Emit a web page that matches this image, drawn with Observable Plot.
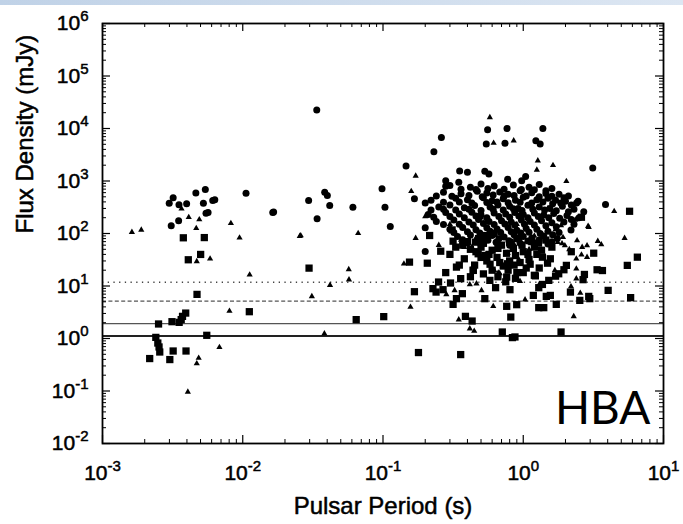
<!DOCTYPE html>
<html>
<head>
<meta charset="utf-8">
<script src="https://cdn.jsdelivr.net/npm/d3@7"></script>
<script src="https://cdn.jsdelivr.net/npm/@observablehq/plot@0.6"></script>
<style>
  html, body { margin: 0; padding: 0; background: white; }
  #wrap { position: relative; width: 683px; height: 524px; }
  #band { position: absolute; left: 0; top: 0; width: 683px; height: 5px;
          background: linear-gradient(to right, #c0d2e7, #dce6f2); }
</style>
</head>
<body>
<div id="wrap"><div id="band"></div></div>
<script>
// ---- Data: [period (s), flux density (mJy)] ----
const circles = [
  [0.00319,478],[0.00299,377],[0.00351,352],[0.00398,367],[0.00463,594],[0.00541,687],[0.00524,377],[0.00611,424],[0.00632,437],[0.00547,243],[0.00566,251],[0.00349,174],[0.00309,140],[0.01055,583],[0.01637,251],[0.0166,258],
  [0.0337,22500],[0.0295,424],[0.0384,610],[0.0401,527],[0.0417,340],[0.0339,190],[0.061,316],[0.0984,708],[0.1033,316],[0.1127,136],[0.146,1936],[0.1675,457],[0.2608,6770],[0.2306,3620],[0.557,9490],[0.766,10000],[0.545,5070],[0.741,5210],[1.38,10000],[1.23,5860],[1.32,5070],[3.13,1775],[3.86,356],[2.46,411],[0.352,1556],[0.4,1462],[0.532,1528],[0.569,1365],[0.774,1077],[0.975,1016],[1.04,1213],[0.28,1016],[0.28,793],[0.347,944],[0.2,45.5],[0.2,128],[2.19,117],
  [0.3,820],[0.42,760],[0.5,880],[0.62,800],[0.85,840],[1.1,760],[1.3,860],[1.6,720],
  [0.36,700],[0.46,690],[0.56,720],[0.73,700],[0.97,690],[1.2,680],[1.45,650],
  [0.27,610],[0.36,570],[0.47,640],[0.55,590],[0.68,620],[0.78,560],[0.95,650],[1.15,600],[1.45,580],[1.8,560],[2.1,520],
  [0.24,520],[0.31,510],[0.41,530],[0.51,500],[0.61,540],[0.73,510],[0.86,530],[1.05,520],[1.3,500],[1.6,510],[1.95,480],
  [0.22,430],[0.33,470],[0.4,440],[0.52,480],[0.6,420],[0.72,460],[0.88,430],[1.0,490],[1.25,440],[1.5,470],[1.7,430],[2.0,410],[2.4,380],
  [0.2,380],[0.27,395],[0.35,400],[0.43,380],[0.55,390],[0.65,400],[0.78,385],[0.95,395],[1.15,380],[1.38,400],[1.62,370],[1.85,380],[2.2,350],
  [0.25,320],[0.3,350],[0.38,310],[0.45,340],[0.58,320],[0.66,350],[0.8,330],[0.92,300],[1.08,345],[1.3,320],[1.55,300],[1.9,330],[2.3,290],[2.7,260],
  [0.22,280],[0.27,290],[0.33,280],[0.41,290],[0.5,275],[0.61,290],[0.72,280],[0.85,295],[0.98,275],[1.17,290],[1.42,280],[1.72,270],[2.1,260],
  [0.21,230],[0.28,250],[0.35,235],[0.43,255],[0.5,225],[0.62,245],[0.75,235],[0.87,250],[1.0,230],[1.2,245],[1.4,225],[1.65,240],[2.05,220],[2.5,200],
  [0.23,205],[0.3,210],[0.38,200],[0.46,215],[0.55,200],[0.67,210],[0.8,205],[0.93,215],[1.08,200],[1.28,210],[1.52,200],[1.82,195],[2.2,185],
  [0.24,170],[0.32,180],[0.41,165],[0.48,185],[0.57,170],[0.7,175],[0.82,165],[0.97,180],[1.12,170],[1.35,175],[1.6,160],[1.95,165],[2.3,150],
  [0.27,148],[0.35,150],[0.44,145],[0.52,155],[0.62,148],[0.74,152],[0.87,145],[1.02,150],[1.2,145],[1.45,140],[1.72,135],
  [0.3,120],[0.37,130],[0.46,118],[0.55,128],[0.65,122],[0.78,130],[0.9,115],[1.05,125],[1.25,120],[1.5,110],[1.8,105],
  [0.32,105],[0.4,108],[0.49,102],[0.58,110],[0.69,104],[0.82,108],[0.96,102],[1.1,106],[1.32,100],[1.62,95],
  [0.34,88],[0.42,94],[0.52,85],[0.6,92],[0.73,86],[0.86,95],[1.0,88],[1.15,82],[1.4,90],[1.75,80],
  [0.37,76],[0.47,78],[0.56,74],[0.67,79],[0.79,73],[0.93,77],[1.08,72],[1.3,75],[1.6,70],
  [0.4,66],[0.5,62],[0.64,68],[0.8,60],[0.95,65],[1.2,58],[1.5,63]
];
const triangles = [
  [0.00162,106],[0.00189,117],[0.00366,295],[0.00412,204],[0.0049,185],[0.00466,126],[0.00823,157],[0.00949,82.8],[0.0255,89],[0.0047,29.4],[0.00585,33],[0.0112,16.4],[0.00804,3.33],[0.00682,0.68],[0.00485,0.426],[0.0047,0.333],[0.00406,0.096],
  [0.0259,91.6],[0.0665,101],[0.171,1250],[0.159,637],[0.171,81.4],[0.141,26.5],[0.057,20.7],[0.0572,13.2],[0.0419,10.4],[0.0311,6.34],[0.157,3.97],[0.0382,1.24],
  [0.578,16300],[0.615,5300],[0.855,5860],[0.2,210],[1.27,2440],[1.63,1990],[1.25,1626],[2.03,986],[4.45,265],[2.35,182],[2.93,132],
  [0.416,10.7],[0.504,8.25],[0.324,8.25],[0.283,6.92],[0.611,4.1],[0.347,2.29],[0.416,1.54],[0.447,1.39],[1.03,5.49],[0.948,12.4],[0.622,19.8],[0.663,17.9],[0.379,55],[0.43,55],[0.693,56.6],[0.774,42.2],[0.933,31.6],
  [5.28,81.4],[2.42,73.6],[2.85,59.2],[3.4,71.4],[3.6,61.8],[1.92,85],[1.76,68.4],[1.98,59.2],[2.13,49.7],[2.19,42.2],[2.6,39.4],[2.39,21.3],[2.39,13.8],[2.19,9.8],[2.55,7.33],[2.29,2.64],[2.9,138],[1.86,142],
  [0.464,11.1],[0.679,17.4],[1.29,10.3],[1.68,19.8],[1.89,64.6],[2.39,33],[2.63,55],[2.85,35.4],
  [0.3,150],[0.5,200],[0.9,150],[1.5,300],[0.7,100],[1.2,90],[0.25,60],[0.36,75],[0.55,40],[0.85,65],[1.1,50],[1.7,120]
];
const squares = [
  [0.00377,82.8],[0.00532,83.6],[0.00409,31.6],[0.00501,39.9],[0.00472,6.92],[0.00392,3.05],[0.00372,2.64],[0.00364,2.29],[0.00352,2.03],[0.00313,2.09],[0.00251,1.89],[0.01114,3.24],[0.0024,1.05],[0.00248,0.82],[0.00253,0.69],[0.00256,0.553],[0.00554,1.15],[0.00319,0.578],[0.00394,0.578],[0.00217,0.415],[0.00302,0.397],
  [0.0297,21.9],[0.1545,28.5],[0.1675,7.79],[0.0644,2.29],[0.1012,2.61],[0.179,0.54],[0.358,0.494],
  [5.73,265],[2.6,204],[0.215,91.6],[0.311,117],[0.316,71.4],[0.258,46],[0.207,27.2],[0.456,68.4],[0.334,22.9],[0.44,19.8],[0.249,11.9],[0.303,11.4],[0.358,13.8],[0.227,8.9],[0.239,7.66],[0.268,8.51],[0.368,7.14],[0.334,5.74],[0.316,4.47],[0.532,5.74],[0.578,12.8],[0.635,9.29],[0.804,8.51],[0.762,14.8],[0.774,26.5],[0.898,4.41],[0.762,4.1],[0.815,2.56],[0.387,2.64],[0.432,2.15],[0.709,1.33],[0.837,1.04],[0.873,1.07],[0.547,91.6],[0.477,41.1],[0.532,38.2],
  [1.285,65.5],[3.18,42.2],[6.51,35.4],[5.52,24.7],[3.36,20.4],[3.67,19.7],[2.73,16.6],[2.67,13.2],[2.03,24.7],[1.95,20.4],[1.79,17.1],[1.7,15.4],[1.22,15.6],[1.52,12.8],[1.37,10.7],[1.29,9.29],[2.17,7.66],[4.03,8.25],[1.18,6.62],[1.46,6.34],[1.56,6.62],[2.93,6.34],[2.98,5.74],[2.53,5.32],[1.72,4.47],[1.29,3.87],[1.4,3.87],[5.83,6.0],[1.86,1.33],[1.37,35.4],[1.56,33],[1.49,27.2],
  [0.37,60],[0.42,50],[0.5,55],[0.6,48],[0.7,60],[0.85,52],[1.0,45],[0.55,30],[0.65,35],[0.8,30],[0.95,28],[1.1,32],[0.45,25],[0.38,33],[0.6,20],[0.72,24],[0.9,18],[1.05,22],[1.25,40],[1.15,70],[0.3,40],[0.48,80],[0.9,80],[0.62,100],[1.6,55],[2.2,45],[0.28,18],[0.42,15],[0.75,12],
  [0.33,55],[0.4,70],[0.46,45],[0.52,65],[0.57,40],[0.66,52],[0.76,42],[0.8,68],[0.88,38],[0.98,60],[1.08,40],[1.2,55],[1.35,48],[1.45,75],[0.35,25],[0.5,35],[0.58,26],[0.68,28],[0.78,20],[0.86,25],[1.0,18],[1.12,26],[1.3,22],[0.52,17],[0.66,15],[0.88,14],[1.2,16],[0.44,20]
];
// sensitivity limit lines (mJy)
const dottedLine = [11.8];
const dashedLine = [5.16];
const thinSolidLine = [1.92];
const thickSolidLine = [1.12];
// tick values
const xMajor = [1e-3, 1e-2, 1e-1, 1, 10];
const yMajor = [1e-2, 1e-1, 1, 10, 100, 1e3, 1e4, 1e5, 1e6];
const mantissas = [2, 3, 4, 5, 6, 7, 8, 9];
const xMinor = xMajor.slice(0, -1).flatMap(d => mantissas.map(m => m * d));
const yMinor = yMajor.slice(0, -1).flatMap(d => mantissas.map(m => m * d));

const W = 683, H = 524, mt = 23, mb = 81, ml = 102, mr = 20;
const pH = H - mt - mb, pW = W - ml - mr;
const expFmt = d => String(Math.round(Math.log10(d)));
const font = "'Liberation Sans', Arial, Helvetica, sans-serif";

const svg = Plot.plot({
  width: W, height: H,
  marginTop: mt, marginBottom: mb, marginLeft: ml, marginRight: mr,
  style: { fontFamily: font, background: "white", overflow: "visible" },
  x: { type: "log", domain: [1e-3, 10] },
  y: { type: "log", domain: [1e-2, 1e6] },
  marks: [
    // reference lines
    Plot.ruleY(dottedLine, { stroke: "#444", strokeWidth: 1.3, strokeDasharray: "1.3,4.4" }),
    Plot.ruleY(dashedLine, { stroke: "#555", strokeWidth: 1.3, strokeDasharray: "4,2.4" }),
    Plot.ruleY(thinSolidLine, { stroke: "#555", strokeWidth: 1.2 }),
    Plot.ruleY(thickSolidLine, { stroke: "#222", strokeWidth: 2 }),
    // points
    Plot.dot(triangles, { x: d => d[0], y: d => d[1], symbol: "triangle", r: 2.3, fill: "black", stroke: "none" }),
    Plot.dot(circles, { x: d => d[0], y: d => d[1], symbol: "circle", r: 3.5, fill: "black", stroke: "none" }),
    Plot.dot(squares, { x: d => d[0], y: d => d[1], symbol: "square", r: 4.1, fill: "black", stroke: "none" }),
    // inward ticks, all four sides
    Plot.ruleX(xMajor, { x: d => d, insetTop: pH - 8, stroke: "black", strokeWidth: 1.2 }),
    Plot.ruleX(xMajor, { x: d => d, insetBottom: pH - 8, stroke: "black", strokeWidth: 1.2 }),
    Plot.ruleX(xMinor, { x: d => d, insetTop: pH - 4, stroke: "black", strokeWidth: 1 }),
    Plot.ruleX(xMinor, { x: d => d, insetBottom: pH - 4, stroke: "black", strokeWidth: 1 }),
    Plot.ruleY(yMajor, { y: d => d, insetRight: pW - 8, stroke: "black", strokeWidth: 1.2 }),
    Plot.ruleY(yMajor, { y: d => d, insetLeft: pW - 8, stroke: "black", strokeWidth: 1.2 }),
    Plot.ruleY(yMinor, { y: d => d, insetRight: pW - 4, stroke: "black", strokeWidth: 1 }),
    Plot.ruleY(yMinor, { y: d => d, insetLeft: pW - 4, stroke: "black", strokeWidth: 1 }),
    Plot.frame({ stroke: "black", strokeWidth: 1.8 }),
    // tick labels
    Plot.axisX({ ticks: xMajor, tickSize: 0, tickPadding: 22, tickFormat: expFmt, fontSize: 21, label: null }),
    Plot.axisY({ ticks: yMajor, tickSize: 0, tickPadding: 14, tickFormat: expFmt, fontSize: 21, label: null }),
    // axis titles
    Plot.text(["Pulsar Period (s)"], { frameAnchor: "bottom", text: d => d, dy: 63, lineAnchor: "middle", fontSize: 24, fill: "black", stroke: "black", strokeWidth: 0.5 }),
    Plot.text(["Flux Density (mJy)"], { frameAnchor: "left", text: d => d, dx: -77, rotate: -90, lineAnchor: "middle", fontSize: 24, fill: "black", stroke: "black", strokeWidth: 0.5 }),
    // panel label
    Plot.text(["HBA"], { frameAnchor: "bottom-right", text: d => d, dx: -13, dy: -34, textAnchor: "end", lineAnchor: "middle", fontSize: 46, fontFamily: "Lato, 'Open Sans', sans-serif", fill: "black" })
  ]
});

// turn exponent labels into 10 with superscript, slightly heavier strokes like the reference
svg.querySelectorAll('g[aria-label="x-axis tick label"] text, g[aria-label="y-axis tick label"] text').forEach(t => {
  const e = t.textContent;
  t.textContent = "10";
  t.setAttribute("stroke", "black");
  t.setAttribute("stroke-width", "0.5");
  t.setAttribute("fill", "black");
  const ts = document.createElementNS("http://www.w3.org/2000/svg", "tspan");
  ts.setAttribute("dy", "-9");
  ts.setAttribute("font-size", "15");
  ts.textContent = e;
  t.appendChild(ts);
});
document.getElementById("wrap").appendChild(svg);
</script>
</body>
</html>
